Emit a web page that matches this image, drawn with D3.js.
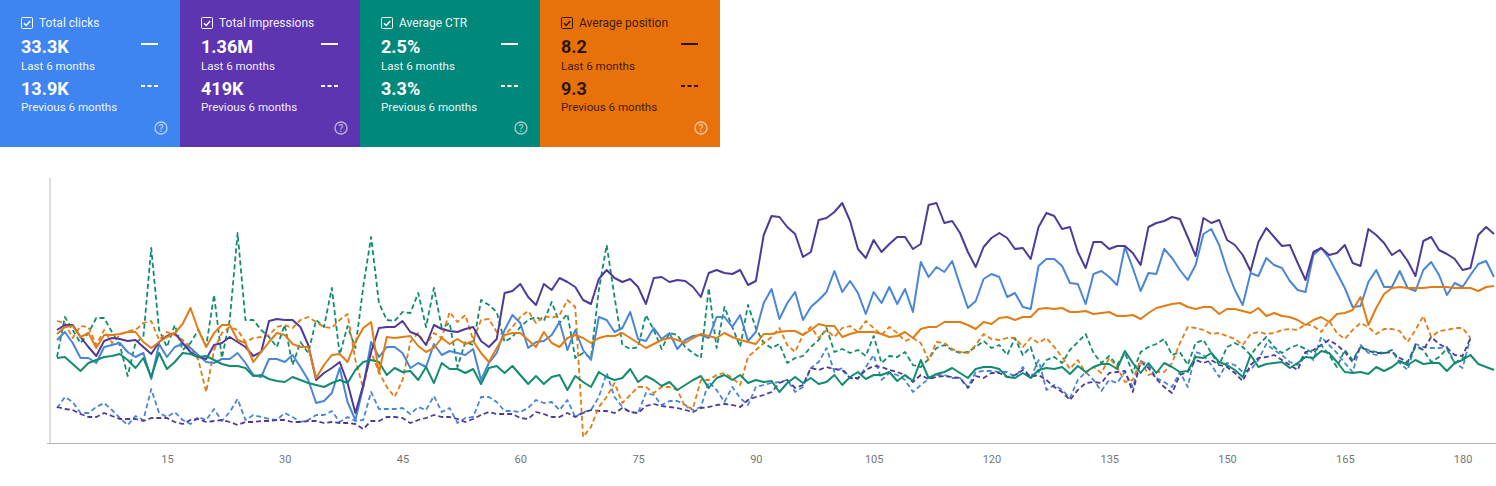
<!DOCTYPE html>
<html>
<head>
<meta charset="utf-8">
<script src="https://cdn.jsdelivr.net/npm/d3@7"></script>
<style>
  html, body { margin: 0; padding: 0; background: #fff; overflow: hidden; }
  svg { display: block; }
  text { font-family: Roboto, sans-serif; }
</style>
</head>
<body>
<div id="chart"></div>
<script>
// cards
var metricNames = ["Total clicks", "Total impressions", "Average CTR", "Average position"];
var lastValues = ["33.3K", "1.36M", "2.5%", "8.2"];
var prevValues = ["13.9K", "419K", "3.3%", "9.3"];
var lastLabel = "Last 6 months";
var prevLabel = "Previous 6 months";

// axis
var dayTicks = [15, 30, 45, 60, 75, 90, 105, 120, 135, 150, 165, 180];

// each metric has its own hidden scale in plot units (0 = axis)
var clicksLast = [103,111,100,85,85,80,96,98,100,91,86,90,64,99,86,96,99,95,88,81,80,84,84,90,80,68,66,84,84,81,
  88,76,63,40,42,50,75,41,23,56,101,86,96,96,90,75,80,76,99,88,92,90,88,94,63,80,90,113,128,120,95,
  101,102,108,121,93,113,93,83,126,123,111,115,131,104,102,115,104,110,94,103,107,108,105,126,126,116,128,102,111,140,154,
  124,140,151,123,136,143,151,172,151,162,150,129,151,140,156,139,154,131,181,166,176,171,182,158,135,142,164,169,166,146,
  150,136,134,177,184,184,177,160,159,139,169,172,166,158,196,175,152,170,169,194,185,173,163,178,209,214,198,173,153,138,170,
  167,185,178,175,162,153,151,188,195,185,170,155,136,137,161,173,156,156,172,155,152,173,181,168,148,160,156,168,179,182,166];
var imprLast = [113,118,118,106,96,87,102,105,104,102,103,96,89,101,107,110,100,91,86,84,98,100,106,101,96,87,91,122,124,123,
  123,116,98,63,70,75,81,60,30,58,91,115,116,116,122,111,108,98,118,114,112,111,114,116,102,96,104,150,152,159,146,
  138,159,153,165,161,156,143,139,164,173,165,161,164,156,139,165,166,161,163,162,156,146,170,173,170,169,173,158,162,208,227,
  226,216,209,186,191,223,225,231,240,222,194,185,203,191,199,206,206,194,199,238,240,220,222,210,191,176,196,205,210,205,
  194,195,184,216,230,227,214,216,191,175,201,201,194,197,197,190,178,216,220,222,226,224,206,187,225,220,223,203,198,188,172,
  201,215,206,197,198,180,163,191,195,188,190,198,180,177,214,208,200,188,193,182,167,202,206,193,189,184,173,175,208,216,209];
var ctrLast = [85,86,79,72,80,83,86,87,89,83,75,85,66,90,74,81,90,89,86,87,83,79,77,77,75,67,68,64,62,61,
  66,63,60,58,56,60,63,60,73,81,83,81,68,75,71,72,63,76,60,80,74,74,70,74,59,75,77,70,77,68,59,
  67,59,66,68,53,67,61,56,71,66,63,65,74,61,67,63,57,61,53,58,63,67,55,65,68,63,68,60,63,61,62,
  51,60,66,60,65,59,61,68,58,66,71,64,68,68,71,62,68,62,83,65,69,71,75,70,65,74,76,76,74,66,
  65,70,65,73,75,74,76,69,77,71,76,79,79,74,92,80,70,80,70,80,76,71,72,86,85,90,81,78,73,66,88,
  76,79,80,81,75,80,86,85,92,90,81,71,70,71,69,76,72,76,82,78,83,79,80,80,72,80,83,88,79,76,73];
var posLast = [109,116,117,106,110,95,108,108,109,111,111,101,95,101,106,110,119,135,113,96,110,118,118,103,100,81,91,101,110,108,
  99,96,96,65,78,88,89,81,101,115,121,70,106,105,106,107,97,91,95,105,99,104,99,102,90,81,95,108,110,110,103,
  96,111,100,96,105,108,105,100,105,107,107,110,105,100,95,99,103,105,103,100,105,109,107,105,110,106,103,101,99,109,109,
  111,112,112,108,113,119,117,117,106,109,111,111,111,109,106,107,111,105,114,116,116,121,121,121,118,114,121,119,125,126,
  123,126,126,134,135,134,135,131,131,132,129,130,131,127,127,128,124,130,135,137,139,140,136,134,136,136,129,134,134,132,130,
  135,127,130,127,126,123,118,123,126,121,129,130,133,146,118,135,149,155,156,155,155,155,156,156,156,155,155,155,152,156,157];

var clicksPrev = [35,46,41,30,30,36,40,33,25,18,27,23,54,30,26,31,23,19,26,23,34,22,31,44,23,28,26,24,23,30,
  26,21,23,28,28,32,21,26,22,23,51,34,34,34,35,29,36,33,47,31,35,20,25,26,46,46,41,32,32,31,35,
  43,40,41,33,43,26,31,33,46,70,46,36,31,30,50,48,38,42,42,38,33,36,61,53,41,56,45,38,56,58,60,
  61,63,51,56,75,81,95,71,75,65,64,76,88,63,70,68,63,51,58,64,68,68,65,65,56,71,72,72,71,71,
  66,76,65,83,53,58,53,45,63,71,63,52,63,60,71,56,82,78,65,61,56,71,56,91,88,78,66,80,78,71,73,
  83,99,93,88,81,78,91,83,106,98,90,80,71,98,90,88,90,93,80,73,99,96,95,95,96,80,75,105];
var imprPrev = [36,34,33,29,26,26,30,27,24,24,24,22,25,25,25,21,19,23,24,21,22,23,21,18,21,21,22,22,23,23,
  21,21,22,22,20,21,20,20,19,14,22,22,26,26,25,20,23,25,28,26,26,24,21,24,28,31,29,29,29,25,24,
  31,29,26,26,30,26,30,33,32,32,30,35,31,30,37,39,37,36,35,33,31,35,36,38,39,38,36,43,46,48,51,
  60,63,55,58,75,73,76,74,73,65,65,73,77,76,73,71,68,61,68,64,66,67,66,65,55,67,65,70,70,66,
  68,73,66,68,63,56,51,43,53,60,61,60,70,71,72,51,81,75,64,56,50,68,71,83,80,83,78,76,70,62,78,
  85,86,88,83,78,73,91,93,98,103,98,91,81,96,92,90,90,91,85,81,98,93,106,99,95,88,87,105];
var ctrPrev = [86,126,113,100,110,125,125,111,98,67,100,106,195,113,96,118,93,100,113,97,148,85,123,210,123,123,113,106,96,118,
  78,101,90,123,116,155,88,117,95,156,206,140,123,122,131,130,150,116,155,115,120,76,101,98,143,138,131,101,106,116,123,
  126,122,141,120,129,85,90,85,153,198,146,98,94,96,128,113,94,110,108,96,90,85,155,95,136,116,96,138,115,100,95,
  99,80,85,87,96,103,115,91,94,90,93,87,107,80,87,86,91,78,76,84,95,98,93,90,91,96,102,95,98,88,
  105,88,96,71,83,86,80,93,101,109,90,80,87,78,90,70,91,96,99,104,88,91,78,100,103,90,78,96,100,96,88,
  98,106,96,90,95,98,94,90,98,88,76,93,83,96,93,91,90,93,81,80,96,93,81,86,94,80,85,88];
var posPrev = [122,120,105,117,116,98,113,100,108,112,113,120,122,103,111,108,103,96,83,51,93,110,116,113,101,105,106,108,116,118,
  115,123,126,121,116,115,123,129,83,55,91,71,56,46,63,101,110,98,110,105,131,121,128,103,123,124,111,108,116,126,132,
  120,127,125,128,143,136,6,16,36,46,60,40,48,56,56,50,56,56,53,36,35,63,63,68,70,65,58,86,93,100,106,
  115,98,91,108,116,105,113,106,115,117,111,122,115,108,116,110,102,105,100,83,101,100,94,91,90,98,109,104,103,105,
  105,96,105,100,105,96,86,74,83,70,76,70,85,76,61,63,83,68,71,71,80,100,116,115,113,109,110,107,104,98,109,
  111,109,110,113,114,113,119,117,111,122,110,104,113,120,116,109,114,114,112,101,113,127,106,112,113,115,115,105];

var cardColors = ["#3f85f2", "#5e35b1", "#00897b", "#e8710a"];
var cardInk = ["#fff", "#fff", "#fff", "#2e1400"];
var lineColors = ["#4a86d6", "#4f3a98", "#128c70", "#e27d15"];

var svg = d3.select("#chart").append("svg").attr("width", 1496).attr("height", 486);

// cards
var cardW = 180, cardH = 147;
var card = svg.selectAll("g.card").data(metricNames).enter().append("g")
  .attr("class", "card")
  .attr("transform", function(d, i) { return "translate(" + (i * cardW) + ",0)"; });

card.append("rect").attr("width", cardW).attr("height", cardH)
  .attr("fill", function(d, i) { return cardColors[i]; });

// checkbox
card.append("rect").attr("x", 21.5).attr("y", 17.5).attr("width", 11).attr("height", 11).attr("rx", 1)
  .attr("fill", "none").attr("stroke", function(d, i) { return cardInk[i]; }).attr("stroke-width", 1);
card.append("path").attr("d", "M24 23.2l2.2 2.2 4-4.4")
  .attr("fill", "none").attr("stroke", function(d, i) { return cardInk[i]; }).attr("stroke-width", 1.4);

card.append("text").attr("x", 39).attr("y", 27).attr("font-size", 12)
  .attr("fill", function(d, i) { return cardInk[i]; }).attr("fill-opacity", 0.95)
  .text(function(d) { return d; });

card.append("text").attr("x", 21).attr("y", 53).attr("font-size", 18).attr("font-weight", 700)
  .attr("fill", function(d, i) { return cardInk[i]; })
  .text(function(d, i) { return lastValues[i]; });
card.append("text").attr("x", 21).attr("y", 70).attr("font-size", 11.6)
  .attr("fill", function(d, i) { return cardInk[i]; }).attr("fill-opacity", 0.95)
  .text(lastLabel);
card.append("text").attr("x", 21).attr("y", 95).attr("font-size", 18).attr("font-weight", 700)
  .attr("fill", function(d, i) { return cardInk[i]; })
  .text(function(d, i) { return prevValues[i]; });
card.append("text").attr("x", 21).attr("y", 111).attr("font-size", 11.6)
  .attr("fill", function(d, i) { return cardInk[i]; }).attr("fill-opacity", 0.95)
  .text(prevLabel);

// legend swatches
card.append("line").attr("x1", 141).attr("x2", 158).attr("y1", 44).attr("y2", 44)
  .attr("stroke", function(d, i) { return cardInk[i]; }).attr("stroke-width", 2);
card.append("line").attr("x1", 141).attr("x2", 158).attr("y1", 86).attr("y2", 86)
  .attr("stroke", function(d, i) { return cardInk[i]; }).attr("stroke-width", 2)
  .attr("stroke-dasharray", "4 2.5");

// help icon
card.append("circle").attr("cx", 161).attr("cy", 128).attr("r", 6)
  .attr("fill", "none").attr("stroke", "#fff").attr("stroke-opacity", 0.6).attr("stroke-width", 1.4);
card.append("text").attr("x", 161).attr("y", 131.5).attr("text-anchor", "middle").attr("font-size", 10).attr("font-weight", 500)
  .attr("fill", "#fff").attr("fill-opacity", 0.6).text("?");

// chart
var x = d3.scaleLinear().domain([1, 184]).range([57, 1494]);
var y = d3.scaleLinear().domain([0, 265]).range([443, 178]);

var line = d3.line()
  .x(function(d, i) { return x(i + 1); })
  .y(function(d) { return y(d); });

var xAxis = d3.axisBottom(x).tickValues(dayTicks).tickSize(0).tickPadding(12);
var gx = svg.append("g").attr("transform", "translate(0,443)").call(xAxis);
gx.select(".domain").remove();
gx.selectAll("text").attr("font-size", 11).attr("font-family", "Roboto, sans-serif").attr("fill", "#757575");

// axis lines
svg.append("line").attr("x1", 47).attr("x2", 1496).attr("y1", 443.5).attr("y2", 443.5).attr("stroke", "#b4b4b4");
svg.append("line").attr("x1", 50).attr("x2", 50).attr("y1", 178).attr("y2", 443).attr("stroke", "#bdbdbd");

// previous period first so the solid lines sit on top
var prevSeries = [clicksPrev, imprPrev, ctrPrev, posPrev];
var lastSeries = [clicksLast, imprLast, ctrLast, posLast];

svg.selectAll("path.prev").data(prevSeries).enter().append("path")
  .attr("class", "prev")
  .attr("d", line)
  .attr("fill", "none")
  .attr("stroke", function(d, i) { return lineColors[i]; })
  .attr("stroke-width", 1.8)
  .attr("stroke-dasharray", "5 3")
  .attr("stroke-linejoin", "round");

svg.selectAll("path.last").data(lastSeries).enter().append("path")
  .attr("class", "last")
  .attr("d", line)
  .attr("fill", "none")
  .attr("stroke", function(d, i) { return lineColors[i]; })
  .attr("stroke-width", 2)
  .attr("stroke-linejoin", "round");
</script>
</body>
</html>
